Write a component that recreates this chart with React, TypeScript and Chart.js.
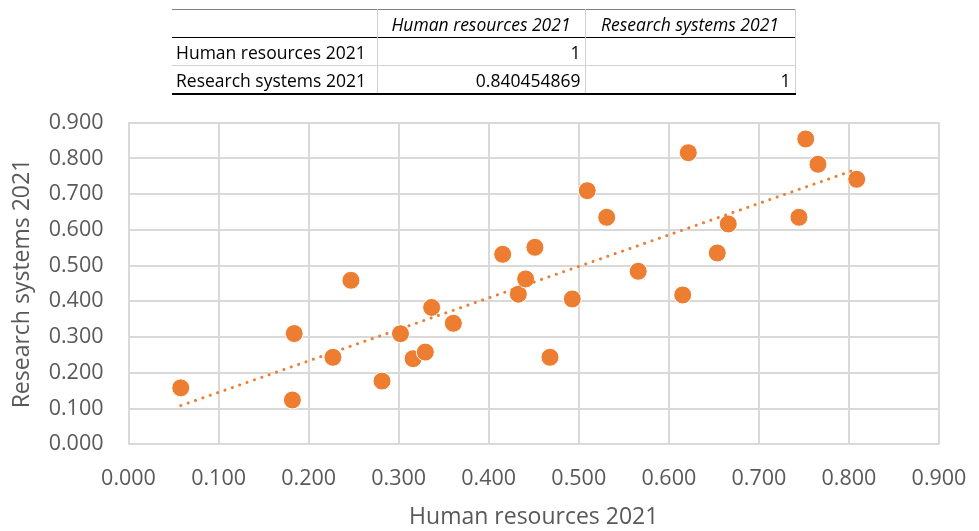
import React, { useEffect, useRef } from "react";
import { Chart, registerables } from "chart.js";

Chart.register(...registerables);

const humanResources = [
  0.058, 0.182, 0.184, 0.227, 0.247, 0.2815, 0.302, 0.316, 0.3296, 0.3366,
  0.3607, 0.4155, 0.4329, 0.441, 0.4513, 0.468, 0.4928, 0.5094, 0.531, 0.566,
  0.6154, 0.6216, 0.6538, 0.666, 0.7445, 0.752, 0.7656, 0.8086,
];
const researchSystems = [
  0.158, 0.124, 0.31, 0.2435, 0.459, 0.177, 0.3095, 0.2396, 0.258, 0.383,
  0.3387, 0.5318, 0.42, 0.4627, 0.5513, 0.2435, 0.4067, 0.7098, 0.6353, 0.4842,
  0.4179, 0.816, 0.5354, 0.6166, 0.6353, 0.8545, 0.7837, 0.7417,
];
const axisTicks = [0, 0.1, 0.2, 0.3, 0.4, 0.5, 0.6, 0.7, 0.8, 0.9];
const xTitle = "Human resources 2021";
const yTitle = "Research systems 2021";
const tableHeader = ["", "Human resources 2021", "Research systems 2021"];
const tableRows = [
  ["Human resources 2021", "1", ""],
  ["Research systems 2021", "0.840454869", "1"],
];

const ORANGE = "#ED7D31";
const GRID = "#d9d9d9";
const TEXT = "#595959";
const FONT = "'Open Sans', sans-serif";

function regression(xs: number[], ys: number[]) {
  const n = xs.length;
  const mx = xs.reduce((a, b) => a + b, 0) / n;
  const my = ys.reduce((a, b) => a + b, 0) / n;
  let sxy = 0;
  let sxx = 0;
  for (let i = 0; i < n; i++) {
    sxy += (xs[i] - mx) * (ys[i] - my);
    sxx += (xs[i] - mx) * (xs[i] - mx);
  }
  const slope = sxy / sxx;
  return { slope, intercept: my - slope * mx };
}

export default function App() {
  const ref = useRef<HTMLCanvasElement | null>(null);

  useEffect(() => {
    if (!ref.current) return;
    const pts = humanResources.map((x, i) => ({ x, y: researchSystems[i] }));
    const { slope, intercept } = regression(humanResources, researchSystems);
    const xmin = Math.min(...humanResources);
    const xmax = Math.max(...humanResources);
    const trend = [
      { x: xmin, y: intercept + slope * xmin },
      { x: xmax, y: intercept + slope * xmax },
    ];
    const chart = new Chart(ref.current, {
      type: "scatter",
      data: {
        datasets: [
          {
            type: "line",
            data: trend,
            borderColor: ORANGE,
            borderWidth: 3,
            borderDash: [0.1, 7.7],
            borderCapStyle: "round",
            pointRadius: 0,
            fill: false,
            order: 0,
          } as any,
          {
            data: pts,
            backgroundColor: ORANGE,
            borderColor: "#ffffff",
            borderWidth: 1,
            pointRadius: 9,
            order: 1,
          },
        ],
      },
      options: {
        animation: false,
        responsive: false,
        maintainAspectRatio: false,
        events: [],
        layout: { padding: { top: 122.7, right: 40, left: 0, bottom: 0 } },
        plugins: { legend: { display: false }, tooltip: { enabled: false } },
        scales: {
          x: {
            type: "linear",
            min: 0,
            max: 0.9,
            afterBuildTicks: (s: any) => {
              s.ticks = axisTicks.map((v) => ({ value: v }));
            },
            afterFit: (s: any) => {
              s.height = 86.7;
            },
            grid: {
              color: GRID,
              lineWidth: 2,
              drawTicks: true,
              tickLength: 22,
              tickColor: "rgba(0,0,0,0)",
            },
            border: { color: GRID, width: 2 },
            ticks: {
              padding: 0,
              color: TEXT,
              font: { family: FONT, size: 21.5 },
              callback: (v: any) => Number(v).toFixed(3),
            },
            title: {
              display: true,
              text: xTitle,
              color: TEXT,
              font: { family: FONT, size: 23 },
              padding: { top: 1, bottom: 0 },
            },
          },
          y: {
            type: "linear",
            min: 0,
            max: 0.9,
            afterBuildTicks: (s: any) => {
              s.ticks = axisTicks.map((v) => ({ value: v }));
            },
            afterFit: (s: any) => {
              s.width = 128.5;
            },
            grid: { color: GRID, lineWidth: 2, drawTicks: false },
            border: { color: GRID, width: 2 },
            ticks: {
              padding: 25,
              color: TEXT,
              font: { family: FONT, size: 21.5 },
              callback: (v: any) => Number(v).toFixed(3),
            },
            title: {
              display: true,
              text: yTitle,
              color: TEXT,
              font: { family: FONT, size: 23 },
              padding: { top: 9, bottom: 0 },
            },
          },
        },
      },
    });
    return () => chart.destroy();
  }, []);

  const cell: React.CSSProperties = {
    padding: "0 4px",
    height: 27,
    whiteSpace: "nowrap",
    overflow: "hidden",
  };

  return (
    <div style={{ position: "absolute", left: 0, top: 0, width: 979, height: 531, background: "#fff" }}>
      <canvas ref={ref} width={979} height={531} style={{ position: "absolute", left: 0, top: 0, width: 979, height: 531 }} />
      <table
        style={{
          position: "absolute",
          left: 172,
          top: 9,
          width: 623,
          borderCollapse: "collapse",
          tableLayout: "fixed",
          fontFamily: FONT,
          fontSize: 17.5,
          color: "#000",
          lineHeight: "26px",
        }}
      >
        <colgroup>
          <col style={{ width: 205 }} />
          <col style={{ width: 208 }} />
          <col style={{ width: 210 }} />
        </colgroup>
        <thead>
          <tr style={{ borderTop: "1.5px solid #7f7f7f", borderBottom: "1.5px solid #000" }}>
            {tableHeader.map((h, i) => (
              <th
                key={i}
                style={{
                  ...cell,
                  fontWeight: "normal",
                  fontStyle: "italic",
                  textAlign: "center",
                  borderLeft: i > 0 ? "1px solid #d0d0d0" : "none",
                  borderRight: i === 2 ? "1px solid #d0d0d0" : "none",
                }}
              >
                {h}
              </th>
            ))}
          </tr>
        </thead>
        <tbody>
          {tableRows.map((r, ri) => (
            <tr
              key={ri}
              style={{
                borderBottom: ri === tableRows.length - 1 ? "2px solid #000" : "1px solid #d0d0d0",
              }}
            >
              {r.map((c, ci) => (
                <td
                  key={ci}
                  style={{
                    ...cell,
                    textAlign: ci === 0 ? "left" : "right",
                    borderLeft: ci > 0 ? "1px solid #d0d0d0" : "none",
                    borderRight: ci === 2 ? "1px solid #d0d0d0" : "none",
                  }}
                >
                  {c}
                </td>
              ))}
            </tr>
          ))}
        </tbody>
      </table>
    </div>
  );
}
